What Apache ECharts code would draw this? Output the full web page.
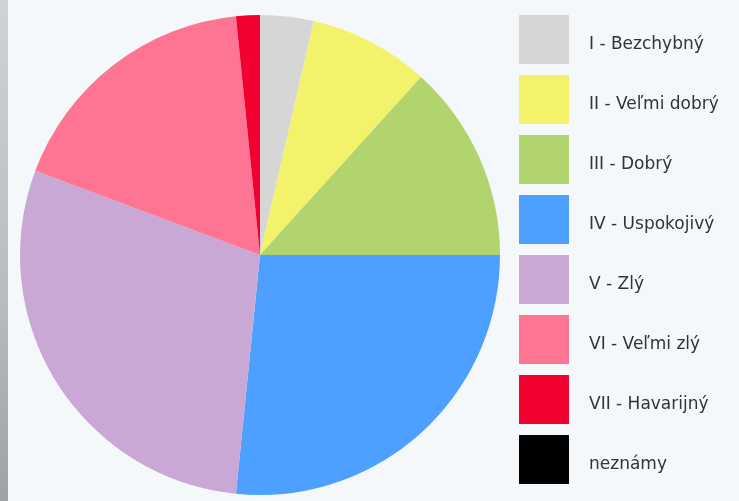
<!DOCTYPE html>
<html>
<head>
<meta charset="utf-8">
<script src="https://cdn.jsdelivr.net/npm/echarts@6/dist/echarts.min.js"></script>
<style>
  html, body { margin: 0; padding: 0; background: #f5f8fb; }
  #chart { width: 739px; height: 501px; }
</style>
</head>
<body>
<div id="chart"></div>
<script>
// stav - podiel v percentach (odčítané z obrázka)
var categories = [
  "I - Bezchybný",
  "II - Veľmi dobrý",
  "III - Dobrý",
  "IV - Uspokojivý",
  "V - Zlý",
  "VI - Veľmi zlý",
  "VII - Havarijný",
  "neznámy"
];
var values = [3.6, 8.1, 13.3, 26.6, 29.1, 17.7, 1.6, 0];
var colors = ["#d6d6d6", "#f2f26b", "#b2d46f", "#4da0ff", "#c9a8d6", "#fd7593", "#f20030", "#000000"];

var myChart = echarts.init(document.getElementById("chart"));

var option = {
  backgroundColor: "#f5f8fb",
  animation: false,
  color: colors,
  graphic: [
    {
      // sivý pásik na ľavom okraji
      type: "rect",
      left: 0,
      top: 0,
      shape: { width: 8, height: 501 },
      style: {
        fill: new echarts.graphic.LinearGradient(0, 0, 0, 1, [
          { offset: 0, color: "#cfd3d7" },
          { offset: 0.6, color: "#b8bcc0" },
          { offset: 1, color: "#9ea2a6" }
        ])
      },
      silent: true
    }
  ],
  legend: {
    orient: "vertical",
    left: 514,
    top: 10,
    icon: "rect",
    itemWidth: 50,
    itemHeight: 49,
    itemGap: 11,
    formatter: "{t|{name}}",
    textStyle: {
      fontFamily: "DejaVu Sans",
      fontSize: 17,
      color: "#333",
      rich: {
        t: {
          fontFamily: "DejaVu Sans",
          fontSize: 17,
          color: "#333",
          padding: [10, 0, 0, 15]
        }
      }
    },
    data: categories
  },
  series: [
    {
      type: "pie",
      center: [260, 255],
      radius: 240,
      startAngle: 90,
      clockwise: true,
      label: { show: false },
      labelLine: { show: false },
      data: categories.map(function (name, i) {
        return { name: name, value: values[i] };
      })
    }
  ]
};

option && myChart.setOption(option);
</script>
</body>
</html>
